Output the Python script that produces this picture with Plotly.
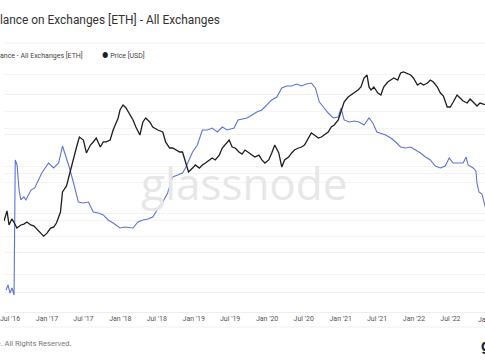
import plotly.graph_objects as go

# ---- Balance on exchanges (million ETH) ----
bal_dates = ["2016-06-11","2016-06-21","2016-07-01","2016-07-11","2016-07-21","2016-07-27","2016-08-05",
    "2016-08-15","2016-08-24","2016-09-08","2016-09-18","2016-10-13","2016-11-01","2016-11-21","2016-12-06",
    "2016-12-26","2017-01-09","2017-02-03","2017-02-28","2017-03-19","2017-04-03","2017-04-23","2017-05-13",
    "2017-06-06","2017-07-01","2017-07-26","2017-08-19","2017-09-13","2017-10-08","2017-11-01","2017-11-26",
    "2017-12-30","2018-01-24","2018-03-05","2018-03-29","2018-04-23","2018-05-18","2018-06-11","2018-07-06",
    "2018-07-31","2018-08-24","2018-09-18","2018-10-13","2018-11-06","2018-11-21","2018-12-26","2019-01-19",
    "2019-02-13","2019-03-10","2019-04-03","2019-04-28","2019-05-23","2019-06-16","2019-07-21","2019-08-09",
    "2019-09-23","2019-10-18","2019-11-11","2019-12-06","2019-12-30","2020-01-24","2020-02-18","2020-03-14",
    "2020-04-07","2020-05-02","2020-05-27","2020-06-20","2020-07-15","2020-08-08","2020-08-28","2020-09-17",
    "2020-10-07","2020-10-31","2020-11-25","2020-12-20","2021-01-03","2021-01-18","2021-02-12","2021-03-09",
    "2021-04-02","2021-04-27","2021-05-22","2021-06-10","2021-06-30","2021-07-20","2021-08-13","2021-09-07",
    "2021-10-02","2021-10-26","2021-11-20","2021-12-15","2022-01-08","2022-02-02","2022-02-27","2022-03-23",
    "2022-04-17","2022-05-12","2022-06-05","2022-06-25","2022-07-15","2022-08-08","2022-09-02","2022-09-17",
    "2022-09-27","2022-10-22","2022-11-05","2022-11-10","2022-11-20","2022-12-05","2022-12-15","2022-12-25"]
bal_values = [5.25,5.89,4.87,5.51,4.62,21.71,21.08,
    17.9,16.65,17.03,16.65,17.91,18.17,19.18,20.07,
    20.83,21.33,20.70,21.33,23.48,22.34,20.70,18.80,
    16.39,16.27,16.39,15.13,15.00,14.75,14.12,13.74,
    13.10,13.23,13.10,13.86,14.12,14.24,14.50,15.51,
    16.39,17.53,19.56,19.81,20.07,20.70,22.72,23.61,
    25.51,25.51,25.76,25.26,25.89,25.51,25.76,26.78,
    27.03,27.41,27.79,28.04,28.67,29.31,29.69,30.83,
    31.08,31.08,31.33,31.08,31.33,31.46,30.83,29.05,
    28.42,27.66,27.03,27.16,28.29,26.78,26.52,26.65,
    26.52,26.14,27.03,26.40,25.26,25.13,24.88,24.50,
    23.99,23.36,23.23,23.36,22.98,22.60,22.09,21.71,
    20.95,20.70,20.95,21.96,21.33,21.33,21.33,22.09,
    21.08,20.70,20.32,18.80,17.66,17.41,16.27,15.38]

# ---- ETH price (USD) ----
px_dates = ["2016-06-01","2016-06-16","2016-06-26","2016-07-10","2016-07-20","2016-08-04","2016-08-24",
    "2016-09-08","2016-09-23","2016-10-12","2016-10-27","2016-11-11","2016-12-01","2016-12-15","2017-01-01",
    "2017-01-19","2017-02-03","2017-02-17","2017-03-09","2017-03-19","2017-04-08","2017-04-28","2017-05-13",
    "2017-05-28","2017-06-11","2017-07-01","2017-07-16","2017-08-05","2017-08-19","2017-09-03","2017-09-23",
    "2017-10-08","2017-10-22","2017-11-11","2017-11-26","2017-12-11","2017-12-21","2017-12-30","2018-01-14",
    "2018-01-29","2018-02-18","2018-03-05","2018-03-19","2018-04-08","2018-04-23","2018-05-07","2018-05-27",
    "2018-06-11","2018-07-06","2018-07-31","2018-08-14","2018-09-03","2018-09-18","2018-10-03","2018-10-23",
    "2018-11-06","2018-11-21","2018-12-06","2018-12-26","2019-01-09","2019-01-29","2019-02-13","2019-02-28",
    "2019-03-19","2019-04-03","2019-04-18","2019-05-08","2019-05-23","2019-06-06","2019-06-26","2019-07-11",
    "2019-07-26","2019-08-14","2019-08-29","2019-09-13","2019-10-03","2019-10-18","2019-11-01","2019-11-21",
    "2019-12-06","2019-12-21","2020-01-09","2020-01-24","2020-02-08","2020-02-28","2020-03-14","2020-03-28",
    "2020-04-17","2020-05-02","2020-05-16","2020-06-05","2020-06-20","2020-07-05","2020-07-25","2020-08-08",
    "2020-08-23","2020-09-12","2020-09-27","2020-10-12","2020-10-31","2020-11-15","2020-11-30","2020-12-20",
    "2021-01-03","2021-01-18","2021-02-07","2021-02-22","2021-03-09","2021-03-28","2021-04-12","2021-04-27",
    "2021-05-12","2021-05-22","2021-06-01","2021-06-15","2021-07-05","2021-07-20","2021-08-03","2021-08-23",
    "2021-09-07","2021-09-22","2021-10-12","2021-10-26","2021-11-10","2021-11-30","2021-12-15","2021-12-29",
    "2022-01-18","2022-02-02","2022-02-17","2022-03-09","2022-03-23","2022-04-07","2022-04-27","2022-05-12",
    "2022-05-27","2022-06-15","2022-06-30","2022-07-15","2022-08-03","2022-08-18","2022-09-02","2022-09-22",
    "2022-10-07","2022-10-22","2022-11-10","2022-11-25","2022-12-10","2022-12-25"]
px_values = [9.7,14.9,8.2,10.6,9.3,7.2,8.2,
    8.5,9.3,8.2,7.9,6.9,5.8,5.1,5.8,
    7.2,7.5,8.9,14.2,33.3,43,85,147,
    225,344,303,175,245,279,330,225,
    279,279,303,464,624,773,1085,1343,
    1181,877,710,527,375,652,773,652,
    527,464,426,279,216,216,198,182,
    182,114,78,92,105,92,105,114,
    130,141,130,160,216,245,303,225,
    216,182,167,198,175,160,147,160,
    130,114,130,175,245,175,96,130,
    147,175,198,216,225,245,330,408,
    375,330,344,375,426,527,574,710,
    1085,1524,1884,2052,2234,2536,2884,4227,
    4797,2884,2536,2884,2234,2052,2884,3565,
    3881,4227,3881,5224,5450,5006,4797,4227,
    3139,3415,3139,3415,3881,3565,2884,2234,
    1967,1233,1233,1524,2052,1807,1589,1460,
    1730,1524,1286,1460,1400,1343]

x_range = ["2016-06-01", "2022-12-20"]
bal_range = [2.468, 34.118]
bal_grid = [5, 10, 15, 20, 25, 30]
px_log_range = [-0.6916, 3.9209]
px_grid = [1, 5, 10, 50, 100, 500, 1000, 5000]

BLUE = "#5b74db"
BLACK = "#1e1e1e"
FONT = "Roboto, Inter, sans-serif"

fig = go.Figure()
fig.add_trace(go.Scatter(x=bal_dates, y=bal_values, mode="lines", yaxis="y",
                         line=dict(color=BLUE, width=1.1), showlegend=False))
fig.add_trace(go.Scatter(x=px_dates, y=px_values, mode="lines", yaxis="y2",
                         line=dict(color=BLACK, width=1.3), showlegend=False))

fig.update_layout(
    width=485, height=360,
    margin=dict(l=0, r=0, t=62, b=48),
    paper_bgcolor="white", plot_bgcolor="white",
    font=dict(family=FONT, color="#555"),
    xaxis=dict(range=x_range, type="date", tickformat="%b '%y", dtick="M6", tick0="2016-01-01",
               showgrid=False, showline=True, linecolor="#eeeeee", linewidth=1,
               tickfont=dict(size=7, color="#555"), ticks="", zeroline=False,
               ticklabeloverflow="allow"),
    yaxis=dict(range=bal_range, tickvals=bal_grid, showticklabels=False, gridcolor="#f1f1f1",
               zeroline=False, showline=False),
    yaxis2=dict(type="log", range=px_log_range, tickvals=px_grid, showticklabels=False,
                gridcolor="#f4f4f4", overlaying="y", side="right", zeroline=False, showline=False),
)

W, H_TOP, H_BOT = 485.0, 62.0, 312.0
def px(xp):
    return xp / W
def py(yp):
    return (H_BOT - yp) / (H_BOT - H_TOP)

annotations = [
    dict(text="glassnode", x=px(242), y=py(183), xanchor="center", yanchor="middle",
         font=dict(family="Open Sans, sans-serif", size=44, color="#e7e7e7"), showarrow=False),
    dict(text="Balance on Exchanges [ETH] - All Exchanges", x=px(220), y=py(20), xanchor="right",
         yanchor="middle", font=dict(size=11.9, color="#333"), showarrow=False),
    dict(text="<span style='color:%s'>●</span> Balance - All Exchanges [ETH]" % BLUE, x=px(82), y=py(56),
         xanchor="right", yanchor="middle", font=dict(size=7, color="#444"), showarrow=False),
    dict(text="<span style='color:%s'>●</span> Price [USD]" % BLACK, x=px(97), y=py(56),
         xanchor="left", yanchor="middle", font=dict(size=7, color="#444"), showarrow=False),
    dict(text="Jan '23", x=px(489), y=py(319.5), xanchor="center", yanchor="middle",
         font=dict(size=7, color="#555"), showarrow=False),
    dict(text="© 2023 Glassnode. All Rights Reserved.", x=px(71), y=py(343), xanchor="right",
         yanchor="middle", font=dict(size=7.6, color="#777"), showarrow=False),
    dict(text="<b>glassnode</b>", x=px(479), y=py(345), xanchor="left", yanchor="middle",
         font=dict(size=16, color="#222"), showarrow=False),
]
for a in annotations:
    a["xref"] = "paper"
    a["yref"] = "paper"
fig.update_layout(annotations=annotations)

shapes = [
    dict(type="line", xref="paper", yref="paper", x0=0, x1=1, y0=py(43), y1=py(43),
         line=dict(color="#f0f0f0", width=1)),
    dict(type="line", xref="paper", yref="paper", x0=0, x1=1, y0=py(327), y1=py(327),
         line=dict(color="#f0f0f0", width=1)),
]
fig.update_layout(shapes=shapes)

fig.write_html("out.html", config={"displayModeBar": False},
               post_script="document.body.style.margin='0';document.body.style.overflow='hidden';")
